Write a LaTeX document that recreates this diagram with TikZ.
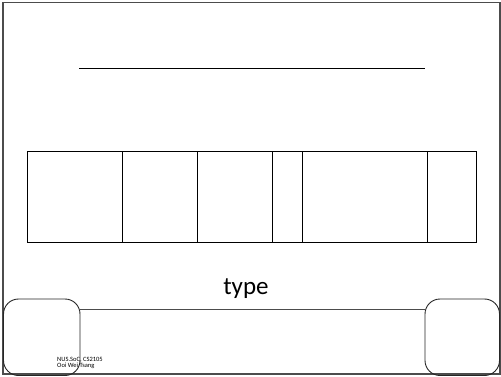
\documentclass[tikz,border=0pt]{standalone}
\usepackage{fontspec}
\setmainfont{Carlito}
\begin{document}
\begin{tikzpicture}[x=1pt,y=-1pt,
  frame/.style={draw=black!70,line width=1.2pt},
  cell/.style={draw=black,line width=0.9pt,inner sep=0pt,minimum height=91pt,anchor=north west},
  corner/.style={draw=black!85,line width=0.9pt,rounded corners=15pt}]
\useasboundingbox (0,0) rectangle (501,377);
\draw[frame] (3,2.5) rectangle (500,374);
\draw[line width=0.9pt] (79,68) -- (425,68);
\node[cell,minimum width=95pt] (c1) at (27.3,151) {};
\node[cell,minimum width=75pt] (c2) at (122.3,151) {};
\node[cell,minimum width=75pt] (c3) at (197.3,151) {};
\node[cell,minimum width=29.4pt] (c4) at (272.3,151) {};
\node[cell,minimum width=125pt] (c5) at (301.7,151) {};
\node[cell,minimum width=49.3pt] (c6) at (426.7,151) {};
\node[font=\fontsize{25}{30}\selectfont] (type) at (246,289) {type};
\draw[corner] (3.5,299) rectangle (80,375.5);
\draw[corner] (425,299) rectangle (499.5,375.5);
\draw[draw=black!70,line width=0.9pt] (80,309) -- (425,309);
\node[font=\fontsize{6.5}{6}\selectfont,align=left,anchor=west,inner sep=0pt] (foot) at (57,363) {NUS.SoC, CS2105\\Ooi Wei Tsang};
\end{tikzpicture}
\end{document}
